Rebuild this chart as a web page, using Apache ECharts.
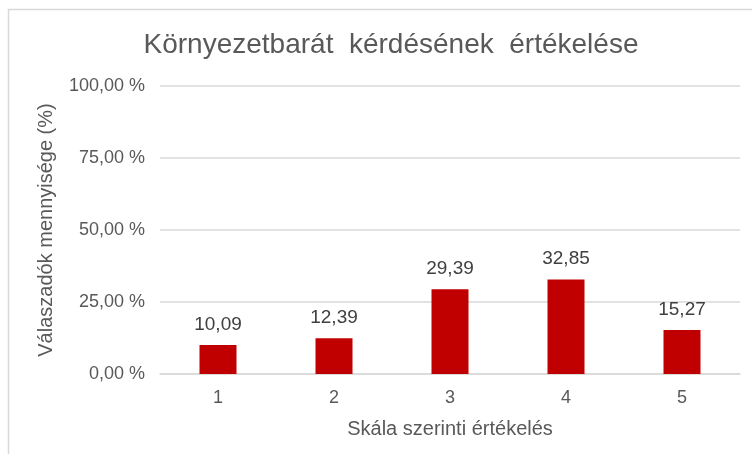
<!DOCTYPE html>
<html>
<head>
<meta charset="utf-8">
<script src="https://cdn.jsdelivr.net/npm/echarts@6/dist/echarts.min.js"></script>
<style>
  html, body { margin: 0; padding: 0; background: #fff; }
  #chart { width: 752px; height: 454px; }
</style>
</head>
<body>
<div id="chart"></div>
<script>
const categories = ['1', '2', '3', '4', '5'];
const values = [10.09, 12.39, 29.39, 32.85, 15.27];
const yTicks = [0, 25, 50, 75, 100];

const fmt = (v, d) => v.toFixed(d).replace('.', ',');
const textColor = '#595959';
const font = 'Liberation Sans, Arial, sans-serif';

const chart = echarts.init(document.getElementById('chart'));
chart.setOption({
    animation: false,
    textStyle: { fontFamily: font },
    graphic: [{
        type: 'rect',
        shape: { x: 8.5, y: 9.5, width: 800, height: 500 },
        style: { fill: 'none', stroke: '#d9d9d9', lineWidth: 1.5 },
        silent: true
    }],
    title: {
        text: 'Környezetbarát  kérdésének  értékelése',
        left: 386,
        textAlign: 'center',
        top: 26,
        textStyle: { fontSize: 28, fontWeight: 'normal', color: textColor, fontFamily: font }
    },
    grid: { left: 160, right: 12, top: 86, bottom: 80 },
    xAxis: {
        type: 'category',
        data: categories,
        axisLine: { lineStyle: { color: '#d9d9d9', width: 1.5 } },
        axisTick: { show: false },
        axisLabel: { color: textColor, fontSize: 18, margin: 15 },
        name: 'Skála szerinti értékelés',
        nameLocation: 'middle',
        nameGap: 45,
        nameTextStyle: { color: textColor, fontSize: 20 }
    },
    yAxis: {
        type: 'value',
        min: yTicks[0],
        max: yTicks[yTicks.length - 1],
        interval: 25,
        axisLine: { show: false },
        axisTick: { show: false },
        splitLine: { lineStyle: { color: '#d9d9d9', width: 1.5 } },
        axisLabel: { color: textColor, fontSize: 18, margin: 15, formatter: v => fmt(v, 2) + ' %' },
        name: 'Válaszadók mennyisége (%)',
        nameLocation: 'middle',
        nameGap: 104,
        nameRotate: 90,
        nameTextStyle: { color: textColor, fontSize: 20 }
    },
    series: [{
        type: 'bar',
        data: values,
        barWidth: 37,
        itemStyle: { color: '#c00000' },
        label: {
            show: true,
            position: 'top',
            distance: 11,
            color: '#404040',
            fontSize: 19,
            formatter: p => fmt(p.value, 2)
        }
    }]
});
</script>
</body>
</html>
